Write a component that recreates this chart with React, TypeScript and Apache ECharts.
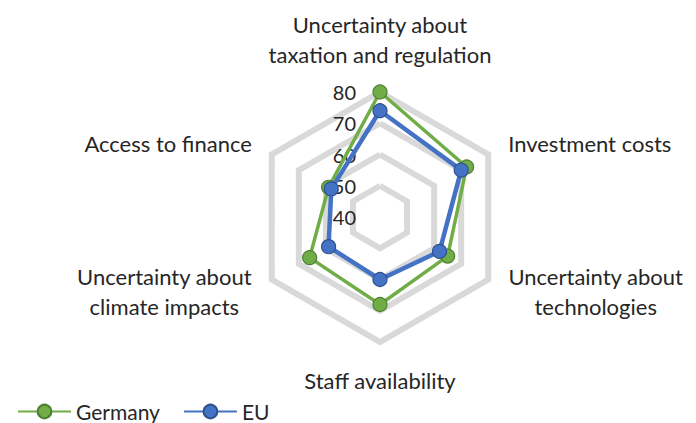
import React, { useEffect, useRef } from 'react';
import * as echarts from 'echarts';

// Indicators in ECharts order (counter-clockwise from the top)
const indicatorNames: string[] = [
  'Uncertainty about\ntaxation and regulation',
  'Access to finance',
  'Uncertainty about\nclimate impacts',
  'Staff availability',
  'Uncertainty about\ntechnologies',
  'Investment costs',
];
const germanyValues: number[] = [80, 59, 66, 68, 65, 72];
const euValues: number[] = [74, 58, 59, 60, 62, 70];
const seriesNames: string[] = ['Germany', 'EU'];
const axisMin = 40;
const axisMax = 80;

const FONT = 'Lato, "Open Sans", sans-serif';
const TEXT = '#262626';
const GREEN = '#70ad47';
const GREEN_DARK = '#507e32';
const BLUE = '#4472c4';
const BLUE_DARK = '#2f528f';

export default function App() {
  const ref = useRef<HTMLDivElement>(null);
  useEffect(() => {
    document.body.style.margin = '0';
    if (!ref.current) return;
    const chart = echarts.init(ref.current, undefined, { renderer: 'svg' });
    const option: any = {
      animation: false,
      backgroundColor: '#ffffff',
      textStyle: { fontFamily: FONT },
      legend: {
        data: seriesNames,
        left: 12,
        top: 396,
        itemWidth: 53,
        itemHeight: 17,
        itemGap: 23,
        textStyle: { fontFamily: FONT, fontSize: 21, color: TEXT, fontWeight: 400 },
      },
      grid: { left: 0, top: 0, width: 1, height: 1, show: false },
      xAxis: { type: 'category', show: false, data: [] },
      yAxis: { type: 'value', show: false },
      radar: {
        center: [380, 217],
        radius: 125,
        startAngle: 90,
        splitNumber: 4,
        shape: 'polygon',
        nameGap: 23,
        indicator: indicatorNames.map((name, i) => ({
          name,
          min: axisMin,
          max: axisMax,
          ...(i === 0
            ? {
                axisLabel: {
                  show: true,
                  margin: 24,
                  fontSize: 20,
                  fontFamily: FONT,
                  fontWeight: 400,
                  color: TEXT,
                  showMinLabel: true,
                  showMaxLabel: true,
                },
              }
            : {}),
        })),
        axisName: {
          color: TEXT,
          fontSize: 22,
          fontFamily: FONT,
          fontWeight: 400,
          lineHeight: 30,
          formatter: (name: string) =>
            name
              .split('\n')
              .map((l) => `{c|${l}}`)
              .join('\n'),
          rich: {
            c: {
              align: 'center',
              color: TEXT,
              fontSize: 22,
              fontFamily: FONT,
              fontWeight: 400,
              lineHeight: 30,
            },
          },
        },
        axisLine: { show: false },
        axisTick: { show: false },
        axisLabel: { show: false },
        splitArea: { show: false },
        splitLine: { lineStyle: { color: '#d9d9d9', width: 6 } },
      },
      series: [
        {
          type: 'line',
          name: seriesNames[0],
          data: [],
          symbol: 'circle',
          lineStyle: { color: GREEN, width: 3.5 },
          itemStyle: { color: GREEN, borderColor: GREEN_DARK, borderWidth: 1.2 },
        },
        {
          type: 'line',
          name: seriesNames[1],
          data: [],
          symbol: 'circle',
          lineStyle: { color: BLUE, width: 4.5 },
          itemStyle: { color: BLUE, borderColor: BLUE_DARK, borderWidth: 1.2 },
        },
        {
          type: 'radar',
          name: seriesNames[0],
          symbol: 'circle',
          symbolSize: 14,
          lineStyle: { color: GREEN, width: 3.5 },
          itemStyle: { color: GREEN, borderColor: GREEN_DARK, borderWidth: 1.2 },
          data: [{ name: seriesNames[0], value: germanyValues }],
          z: 2,
        },
        {
          type: 'radar',
          name: seriesNames[1],
          symbol: 'circle',
          symbolSize: 14,
          lineStyle: { color: BLUE, width: 4.5 },
          itemStyle: { color: BLUE, borderColor: BLUE_DARK, borderWidth: 1.2 },
          data: [{ name: seriesNames[1], value: euValues }],
          z: 3,
        },
      ],
    };
    chart.setOption(option);
    return () => chart.dispose();
  }, []);
  return <div ref={ref} style={{ width: 696, height: 423 }} />;
}
